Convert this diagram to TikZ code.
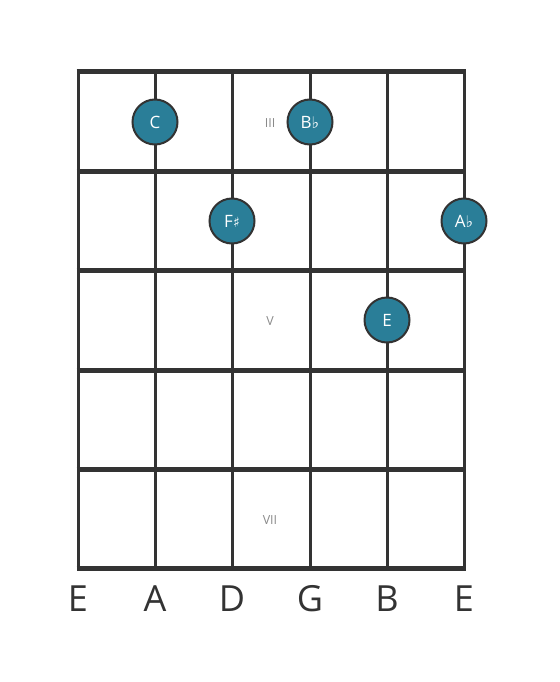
\documentclass[tikz,border=0pt]{standalone}
\usepackage{fontspec}
\setmainfont{Open Sans}
\newfontfamily\symfont{DejaVu Sans}
\usepackage{xcolor}
\usetikzlibrary{positioning}
\definecolor{gridgray}{HTML}{333333}
\definecolor{noteteal}{HTML}{2A7E98}
\definecolor{markgray}{HTML}{8A8A8A}

\begin{document}
\begin{tikzpicture}[x=1pt, y=-1pt,
		fret/.style = {line width=5pt, draw=gridgray},
		gstring/.style = {line width=3pt, draw=gridgray},
		note/.style = {circle, draw=gridgray, line width=2pt, fill=noteteal, minimum size=45pt, inner sep=0pt, text=white, font=\fontsize{17}{17}\selectfont},
		marker/.style = {text=markgray, font=\fontsize{12.5}{12.5}\selectfont},
		tuning/.style = {text=gridgray, font=\fontsize{36}{36}\selectfont}]
	\useasboundingbox (0,0) rectangle (559,682);
	% strings
	\foreach \x in {78,155,232,310,387,464}
		\draw[gstring] (\x,72) -- (\x,568);
	% frets
	\foreach \y in {72,171,270,370,469,568}
		\draw[fret] (76.5,\y) -- (465.5,\y);
	% position markers
	\node[marker] (m3) at (270,123) {III};
	\node[marker] (m5) at (270,321) {V};
	\node[marker] (m7) at (270,520) {VII};
	% notes
	\node[note] (nC) at (155,122) {C};
	\node[note] (nBb) at (310,122) {B{\symfont\fontsize{16}{16}\selectfont ♭}};
	\node[note] (nFs) at (232,221) {F{\symfont\fontsize{14}{14}\selectfont ♯}};
	\node[note] (nAb) at (464,221) {A{\symfont\fontsize{16}{16}\selectfont ♭}};
	\node[note] (nE) at (387,320) {E};
	% tuning
	\node[tuning] (s6) at (78,599) {E};
	\node[tuning] (s5) at (155,599) {A};
	\node[tuning] (s4) at (232,599) {D};
	\node[tuning] (s3) at (310,599) {G};
	\node[tuning] (s2) at (387,599) {B};
	\node[tuning] (s1) at (464,599) {E};
\end{tikzpicture}
\end{document}
